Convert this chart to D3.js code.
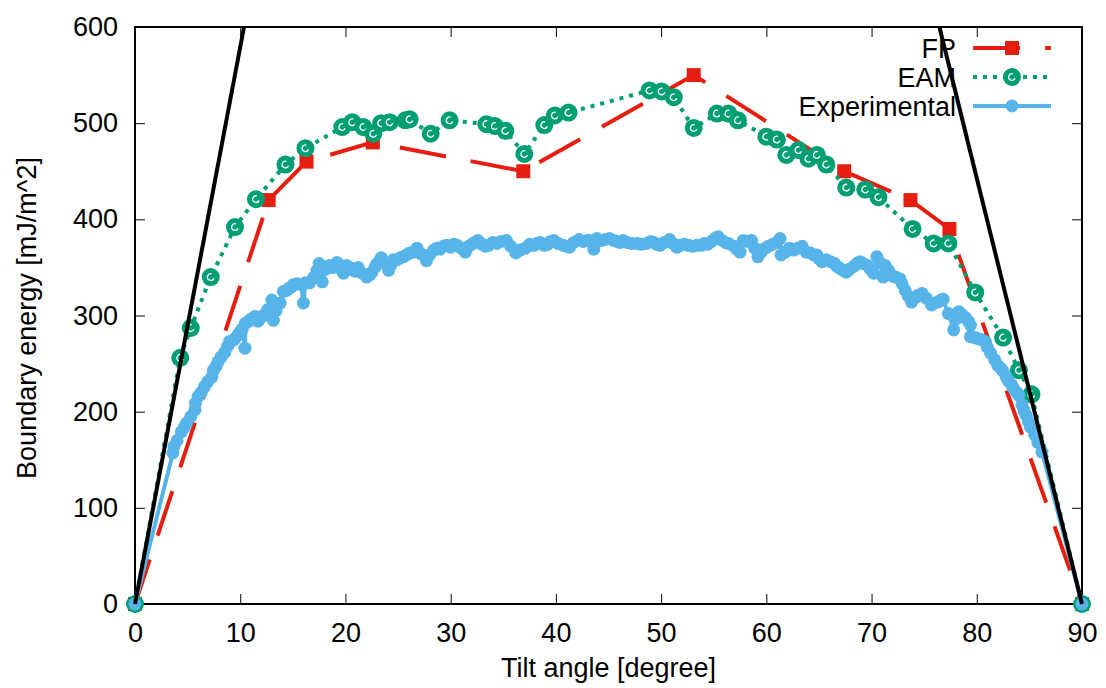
<!DOCTYPE html>
<html>
<head>
<meta charset="utf-8">
<script src="https://d3js.org/d3.v7.min.js"></script>
<style>
  body { margin: 0; background: #fff; }
  text { font-family: "Liberation Sans", Arial, sans-serif; }
</style>
</head>
<body>
<div id="svg_chart"></div>
<script>
///////////// Chapter 1. Data //////////////
// FP (first principles)
var fp_angle  = [0, 12.7, 16.3, 22.6, 36.9, 53.1, 67.4, 73.7, 77.4, 90];
var fp_energy = [0, 420, 460, 480, 450, 550, 450, 420, 390, 0];

// EAM
var eam_angle  = [0, 4.3, 5.3, 7.2, 9.5, 11.5, 14.3, 16.2, 19.7, 20.65, 21.7, 22.65, 23.4, 24.2, 25.7, 26.1,
  28.1, 29.9, 33.4, 34.2, 35.2, 37.0, 38.9, 39.9, 41.2, 48.9, 50.05, 51.2, 53.1, 55.3, 56.4, 57.3,
  60.0, 61.0, 61.9, 63.05, 64.0, 64.8, 65.7, 67.6, 69.4, 70.65, 73.9, 75.9, 77.3, 79.85, 82.5, 84.0, 85.2, 90];
var eam_energy = [0, 256, 287, 340, 392, 421, 457, 474, 496, 501, 496, 489, 500, 501, 503, 504,
  489, 503, 499, 497, 492, 468, 498, 508, 511, 534, 533, 527, 495, 510, 510, 503,
  486, 483, 467, 472, 463, 467, 457, 433, 431, 423, 390, 375, 375, 324, 277, 243, 218, 0];

// Experimental (angle, energy)
var exp_angle = [0, 3.6, 3.7, 4.0, 4.4, 4.7, 4.9, 5.3, 5.7, 5.75, 6.0, 6.3, 6.6, 6.9, 7.3, 7.45, 7.7, 7.9,
  8.2, 8.55, 8.8, 9.0, 9.3, 9.5, 9.8, 10.0, 10.2, 10.45, 10.5, 10.8, 11.1, 11.4, 11.7, 12.0, 12.2, 12.6,
  13.0, 13.15, 13.4, 13.8, 14.1, 14.4, 14.6, 14.9, 15.05, 15.4, 15.8, 16.0, 16.2, 16.6, 17.0, 17.3, 17.5,
  17.8, 18.1, 18.5, 18.8, 19.2, 19.5, 19.8, 20.1, 20.4, 20.6, 20.9, 21.2, 21.6, 22.0, 22.3, 22.5, 22.8,
  23.0, 23.4, 23.7, 24.1, 24.3, 24.55, 24.9, 25.2, 25.5, 25.8, 26.1, 26.5, 26.8, 27.2, 27.7, 28.0, 28.4,
  28.7, 29.0, 29.3, 29.6, 30.0, 30.3, 30.6, 31.0, 31.4, 31.7, 32.0, 32.3, 32.6, 33.0, 33.3, 33.6, 34.0,
  34.4, 34.8, 35.3, 35.7, 36.2, 36.6, 37.1, 37.5, 37.9, 38.2, 38.5, 38.9, 39.2, 39.5, 39.8, 40.2, 40.7,
  41.0, 41.3, 41.7, 42.2, 42.6, 43.0, 43.2, 43.6, 43.9, 44.3, 44.7, 45.1, 45.5, 45.8, 46.1, 46.4, 46.8,
  47.2, 47.7, 48.1, 48.6, 49.0, 49.3, 49.6, 49.9, 50.3, 50.8, 51.1, 51.5, 51.8, 52.2, 52.6, 53.0, 53.4,
  53.8, 54.1, 54.4, 54.8, 55.1, 55.4, 55.8, 56.1, 56.4, 56.9, 57.2, 57.5, 57.8, 58.2, 58.6, 58.9, 59.2,
  59.5, 59.9, 60.2, 60.6, 61.0, 61.3, 61.4, 61.8, 62.2, 62.6, 63.0, 63.4, 63.8, 64.2, 64.5, 64.8, 65.0,
  65.3, 65.7, 66.1, 66.5, 66.7, 67.0, 67.3, 67.6, 67.9, 68.3, 68.6, 68.9, 69.2, 69.6, 69.9, 70.2, 70.5,
  70.8, 71.1, 71.3, 71.6, 72.0, 72.3, 72.7, 72.9, 73.2, 73.5, 73.8, 74.1, 74.4, 74.8, 75.2, 75.7, 76.0,
  76.3, 76.6, 76.8, 77.3, 77.8, 78.1, 78.3, 78.6, 78.9, 79.2, 79.4, 79.4, 79.8, 80.1, 80.4, 80.8, 81.0,
  81.3, 81.7, 82.0, 82.3, 82.5, 82.8, 83.0, 83.3, 83.5, 83.8, 84.0, 84.3, 84.5, 84.7, 84.9, 85.1, 85.5,
  85.8, 86.2, 90];
var exp_energy = [0, 157, 164, 170, 179, 184, 188, 195, 202, 209, 216, 220, 226, 231, 236, 243, 247, 252,
  257, 262, 268, 273, 274, 276, 280, 283, 286, 266, 292, 294, 297, 299, 294, 298, 300, 306,
  316, 295, 305, 313, 325, 326, 328, 330, 332, 333, 332, 313, 334, 334, 340, 347, 354,
  335, 348, 352, 350, 355, 349, 344, 352, 350, 348, 346, 350, 344, 340, 342, 345, 350,
  354, 360, 355, 347, 352, 358, 358, 360, 361, 363, 365, 366, 370, 364, 357, 363, 368,
  370, 369, 372, 373, 371, 374, 373, 370, 366, 372, 374, 376, 378, 374, 372, 373, 376,
  375, 377, 378, 372, 365, 368, 370, 374, 373, 375, 376, 373, 374, 377, 378, 375, 373,
  372, 371, 376, 379, 377, 378, 378, 369, 380, 378, 379, 380, 378, 377, 376, 378, 376,
  375, 375, 374, 375, 377, 376, 374, 373, 376, 379, 375, 371, 373, 374, 373, 372, 373,
  373, 375, 374, 377, 380, 382, 378, 376, 375, 372, 369, 366, 378, 377, 378, 370, 361,
  366, 370, 372, 374, 376, 380, 363, 366, 370, 368, 370, 372, 366, 365, 363, 363, 359,
  356, 358, 356, 354, 351, 349, 347, 345, 348, 351, 354, 356, 354, 352, 348, 344, 361,
  355, 340, 352, 347, 341, 340, 338, 333, 326, 320, 314, 318, 321, 323, 318, 311, 313,
  314, 316, 317, 302, 285, 297, 304, 301, 298, 294, 290, 278, 277, 276, 275, 273, 267,
  261, 254, 248, 245, 242, 236, 232, 228, 224, 220, 217, 207, 201, 196, 190, 184, 176,
  168, 158, 0];

// the two straight black guide lines
var guide_left  = [[0, 0], [10.36, 600]];
var guide_right = [[76.45, 600], [90, 0]];

var x_ticks = [0, 10, 20, 30, 40, 50, 60, 70, 80, 90];
var y_ticks = [0, 100, 200, 300, 400, 500, 600];

var zip = (a, b) => a.map((v, i) => [v, b[i]]);
var fp_data  = zip(fp_angle, fp_energy);
var eam_data = zip(eam_angle, eam_energy);
var exp_data = zip(exp_angle, exp_energy);
///////////// Chapter 1. End /////////////

///////////// Chapter 2. Canvas & axes //////////////
const svg_width = 1106, svg_height = 688;
const plot = {left: 135, right: 1082, top: 27, bottom: 604};
const font_size = 27;

const red = '#e51e10', green = '#009e73', blue = '#56b4e9';

var svg = d3.select('#svg_chart').append('svg')
  .attr('width', svg_width)
  .attr('height', svg_height);

var x = d3.scaleLinear().domain([0, 90]).range([plot.left, plot.right]);
var y = d3.scaleLinear().domain([0, 600]).range([plot.bottom, plot.top]);

// ticks point inward and are mirrored on all four sides (gnuplot style)
function style_axis(g) {
  g.select('.domain').remove();
  g.selectAll('.tick line').attr('stroke', '#000').attr('stroke-width', 1);
  g.selectAll('.tick text').attr('font-size', font_size).attr('fill', '#000')
    .attr('font-family', '"Liberation Sans", Arial, sans-serif');
}

svg.append('g').attr('transform', `translate(0,${plot.bottom})`)
  .call(d3.axisBottom(x).tickValues(x_ticks).tickSizeInner(-10).tickSizeOuter(0).tickPadding(19))
  .call(style_axis);
svg.append('g').attr('transform', `translate(0,${plot.top})`)
  .call(d3.axisTop(x).tickValues(x_ticks).tickSizeInner(-10).tickSizeOuter(0).tickFormat(''))
  .call(style_axis);
svg.append('g').attr('transform', `translate(${plot.left},0)`)
  .call(d3.axisLeft(y).tickValues(y_ticks).tickSizeInner(-10).tickSizeOuter(0).tickPadding(17))
  .call(style_axis);
svg.append('g').attr('transform', `translate(${plot.right},0)`)
  .call(d3.axisRight(y).tickValues(y_ticks).tickSizeInner(-10).tickSizeOuter(0).tickFormat(''))
  .call(style_axis);

// border
svg.append('rect').attr('fill', 'none').attr('stroke', '#000').attr('stroke-width', 2)
  .attr('x', plot.left).attr('y', plot.top)
  .attr('width', plot.right - plot.left).attr('height', plot.bottom - plot.top);

// axis labels
svg.append('text').attr('x', (plot.left + plot.right) / 2).attr('y', 677)
  .attr('text-anchor', 'middle').attr('font-size', font_size)
  .text('Tilt angle [degree]');
svg.append('text').attr('transform', 'translate(36,318) rotate(-90)')
  .attr('text-anchor', 'middle').attr('font-size', font_size)
  .text('Boundary energy [mJ/m^2]');
///////////// Chapter 2. End /////////////

///////////// Chapter 3. Series //////////////
var line = d3.line().x(d => x(d[0])).y(d => y(d[1]));

function draw_square(g, cx, cy) {
  g.append('rect').attr('x', cx - 7).attr('y', cy - 7).attr('width', 14).attr('height', 14)
    .attr('fill', red);
}
function draw_ring(g, cx, cy) {
  g.append('circle').attr('cx', cx).attr('cy', cy).attr('r', 9).attr('fill', green);
  g.append('circle').attr('cx', cx).attr('cy', cy).attr('r', 3.3)
    .attr('fill', 'none').attr('stroke', '#fff').attr('stroke-width', 1.3)
    .attr('stroke-dasharray', '15,6').attr('transform', `rotate(20,${cx},${cy})`);
}
function draw_dot(g, cx, cy) {
  g.append('circle').attr('cx', cx).attr('cy', cy).attr('r', 6.5).attr('fill', blue);
}

// FP
svg.append('path').datum(fp_data).attr('d', line)
  .attr('fill', 'none').attr('stroke', red).attr('stroke-width', 4)
  .attr('stroke-dasharray', '47,25');
var fp_g = svg.append('g');
fp_data.forEach(d => draw_square(fp_g, x(d[0]), y(d[1])));

// EAM
svg.append('path').datum(eam_data).attr('d', line)
  .attr('fill', 'none').attr('stroke', green).attr('stroke-width', 4)
  .attr('stroke-dasharray', '4,6');
var eam_g = svg.append('g');
eam_data.forEach(d => draw_ring(eam_g, x(d[0]), y(d[1])));

// Experimental
svg.append('path').datum(exp_data).attr('d', line)
  .attr('fill', 'none').attr('stroke', blue).attr('stroke-width', 4)
  .attr('stroke-linejoin', 'round');
var exp_g = svg.append('g');
exp_data.forEach(d => draw_dot(exp_g, x(d[0]), y(d[1])));

// black guide lines on top
[guide_left, guide_right].forEach(function(seg) {
  svg.append('path').datum(seg).attr('d', line)
    .attr('fill', 'none').attr('stroke', '#000').attr('stroke-width', 4);
});
///////////// Chapter 3. End /////////////

///////////// Chapter 4. Legend //////////////
var legend_rows = [
  {name: 'FP', y: 48, kind: 'fp'},
  {name: 'EAM', y: 77, kind: 'eam'},
  {name: 'Experimental', y: 106, kind: 'exp'}
];
var leg = svg.insert('g', 'path'); // keep legend under the data, like gnuplot key
legend_rows.forEach(function(r) {
  leg.append('text').attr('x', 956).attr('y', r.y).attr('dy', '0.36em')
    .attr('text-anchor', 'end').attr('font-size', font_size).text(r.name);
  var ln = leg.append('line').attr('x1', 973).attr('x2', 1051).attr('y1', r.y).attr('y2', r.y)
    .attr('stroke-width', 4);
  if (r.kind == 'fp') { ln.attr('stroke', red).attr('stroke-dasharray', '47,25'); draw_square(leg, 1012, r.y); }
  if (r.kind == 'eam') { ln.attr('stroke', green).attr('stroke-dasharray', '4,6'); draw_ring(leg, 1012, r.y); }
  if (r.kind == 'exp') { ln.attr('stroke', blue); draw_dot(leg, 1012, r.y); }
});
///////////// Chapter 4. End /////////////
</script>
</body>
</html>
